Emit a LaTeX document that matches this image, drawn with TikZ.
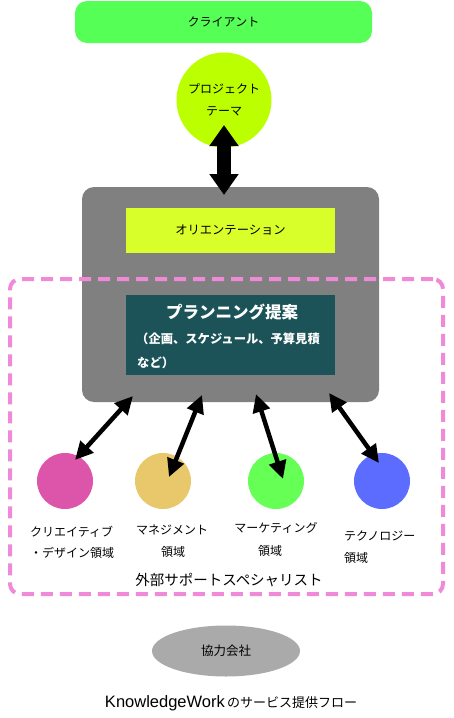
\documentclass[tikz,border=0pt]{standalone}
\usepackage{fontspec}
\setmainfont{Noto Sans CJK JP}
\newfontfamily\latinfont{Liberation Sans}
\usetikzlibrary{arrows.meta,shapes.geometric}
\definecolor{clientgreen}{HTML}{55FF55}
\definecolor{themegreen}{HTML}{BBFF00}
\definecolor{orientyellow}{HTML}{D8FF2A}
\definecolor{boxgrey}{HTML}{808080}
\definecolor{tealbox}{HTML}{1B5358}
\definecolor{dashpink}{HTML}{EE8AD8}
\definecolor{cpink}{HTML}{DD55AA}
\definecolor{cyellow}{HTML}{E8C86A}
\definecolor{cgreen}{HTML}{66FF55}
\definecolor{cblue}{HTML}{5B6CFF}
\definecolor{ellgrey}{HTML}{AAAAAA}
\tikzset{
  lbl/.style={inner sep=0pt, font=\fontsize{12}{14}\selectfont},
  areacircle/.style={circle, minimum size=56pt, inner sep=0pt},
  bigarrow/.style={line width=14pt, {Triangle[width=28pt,length=21pt]}-{Triangle[width=28pt,length=21pt]}},
  linkarrow/.style={line width=4.5pt, {Triangle[width=17pt,length=18pt]}-{Triangle[width=17pt,length=18pt]}},
}
\begin{document}
\begin{tikzpicture}[x=1pt,y=-1pt]
\useasboundingbox (0,0) rectangle (453,718);
% client
\node[fill=clientgreen, rounded corners=12pt, minimum width=297pt, minimum height=42pt, inner sep=0pt, font=\fontsize{12}{14}\selectfont] (client) at (223.5,22) {クライアント};
% theme
\node[circle, fill=themegreen, minimum size=95pt, inner sep=0pt, align=center, font=\fontsize{12}{22}\selectfont] (theme) at (224,100) {プロジェクト\\テーマ};
% grey container
\node[fill=boxgrey, rounded corners=12pt, minimum width=297pt, minimum height=215pt, inner sep=0pt] (grey) at (230.5,294.5) {};
% dashed box
\node[draw=dashpink, line width=4pt, dash pattern=on 12pt off 7pt, rounded corners=10pt, minimum width=433pt, minimum height=315pt, inner sep=0pt] (spec) at (226.5,436.5) {};
% orientation
\node[fill=orientyellow, minimum width=209pt, minimum height=45pt, inner sep=0pt, font=\fontsize{12.3}{14}\selectfont] (orient) at (230.5,230.5) {オリエンテーション};
% planning
\node[fill=tealbox, minimum width=209pt, minimum height=80pt, inner sep=0pt] (plan) at (230.5,335) {};
\node[text=white, inner sep=0pt, font=\fontsize{16.5}{18}\selectfont\bfseries] (plant) at (232,312) {プランニング提案};
\node[text=white, inner sep=0pt, anchor=west, font=\fontsize{12.3}{14}\selectfont\bfseries] (plan2) at (136,339) {（企画、スケジュール、予算見積};
\node[text=white, inner sep=0pt, anchor=west, font=\fontsize{12.3}{14}\selectfont\bfseries] (plan3) at (137,363) {など）};
% big arrow
\coordinate (ta) at (224,125);
\coordinate (tb) at (224,195);
\draw[bigarrow] (ta) -- (tb);
% circles
\node[areacircle, fill=cpink] (c1) at (65,481) {};
\node[areacircle, fill=cyellow] (c2) at (163,481) {};
\node[areacircle, fill=cgreen] (c3) at (276,481) {};
\node[areacircle, fill=cblue] (c4) at (382,481) {};
% arrows
\coordinate (a1s) at (133,396);
\coordinate (a1e) at (75,460);
\coordinate (a2s) at (202,395);
\coordinate (a2e) at (169,477);
\coordinate (a3s) at (256,394);
\coordinate (a3e) at (283,479);
\coordinate (a4s) at (329,393);
\coordinate (a4e) at (379,463);
\draw[linkarrow] (a1s) -- (a1e);
\draw[linkarrow] (a2s) -- (a2e);
\draw[linkarrow] (a3s) -- (a3e);
\draw[linkarrow] (a4s) -- (a4e);
% labels
\node[lbl, anchor=west] (l1a) at (30,532) {クリエイティブ};
\node[lbl, anchor=west] (l1b) at (30,553) {・デザイン領域};
\node[lbl] (l2a) at (172,530) {マネジメント};
\node[lbl] (l2b) at (173,552) {領域};
\node[lbl] (l3a) at (276,528) {マーケティング};
\node[lbl] (l3b) at (270,551) {領域};
\node[lbl, anchor=west] (l4a) at (344,536) {テクノロジー};
\node[lbl, anchor=west] (l4b) at (344,558) {領域};
\node[inner sep=0pt, font=\fontsize{14.5}{16}\selectfont] (spect) at (229,580) {外部サポートスペシャリスト};
% partner ellipse
\node[ellipse, fill=ellgrey, minimum width=148pt, minimum height=51pt, inner sep=0pt, font=\fontsize{12.5}{14}\selectfont] (partner) at (226,651) {協力会社};
% title
\node[inner sep=0pt, font=\fontsize{13}{16}\selectfont] (title) at (231,703) {{\latinfont\fontsize{16.5}{18}\selectfont KnowledgeWork}\,のサービス提供フロー};
\end{tikzpicture}
\end{document}
